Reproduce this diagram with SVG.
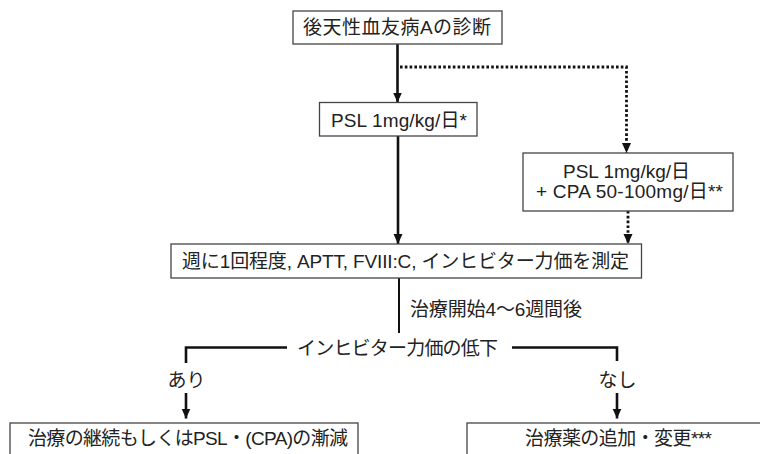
<svg xmlns="http://www.w3.org/2000/svg" width="760" height="454" viewBox="0 0 760 454">
<defs>
<style>
.box{fill:#fff;stroke:#444;stroke-width:1.3}
.t{font-family:"Liberation Sans","Noto Sans CJK JP",sans-serif;font-size:19px;fill:#222}
.c{text-anchor:middle}
.solid{fill:none;stroke:#111;stroke-width:2.6}
.thin{fill:none;stroke:#111;stroke-width:2}
.dot{fill:none;stroke:#111;stroke-width:2.8;stroke-dasharray:2.6 2.2}
</style>
<marker id="ah" viewBox="0 0 10 10" refX="10" refY="5" markerWidth="10" markerHeight="10" markerUnits="userSpaceOnUse" orient="auto">
<path d="M0,0.5 L10,5 L0,9.5 Z" fill="#111"/>
</marker>
</defs>
<rect width="760" height="454" fill="#fff"/>
<g id="connectors">
<line class="solid" x1="397.5" y1="44" x2="397.5" y2="102.5" marker-end="url(#ah)"/>
<polyline class="dot" points="400,67 626.5,67 626.5,153" marker-end="url(#ah)"/>
<line class="solid" x1="398" y1="136" x2="398" y2="244" marker-end="url(#ah)"/>
<line class="dot" x1="628" y1="211" x2="628" y2="244" marker-end="url(#ah)"/>
<line class="thin" x1="399" y1="278" x2="399" y2="333"/>
<polyline class="solid" points="287,347.5 186,347.5 186,363"/>
<polyline class="solid" points="512,347.5 617,347.5 617,361"/>
<line class="solid" x1="186" y1="393" x2="186" y2="418.5" marker-end="url(#ah)"/>
<line class="solid" x1="617" y1="393" x2="617" y2="418.5" marker-end="url(#ah)"/>
</g>
<g id="diagnosis">
<rect class="box" x="293" y="11" width="209" height="33"/>
<text class="t c" x="397" y="34" textLength="188" lengthAdjust="spacing">後天性血友病Aの診断</text>
</g>
<g id="psl">
<rect class="box" x="319.5" y="102.5" width="157.5" height="33.5"/>
<text class="t c" x="399" y="126.5" textLength="136" lengthAdjust="spacing">PSL 1mg/kg/日*</text>
</g>
<g id="psl-cpa">
<rect class="box" x="523" y="153" width="210" height="58"/>
<text class="t c" x="626.5" y="178" textLength="127" lengthAdjust="spacing">PSL 1mg/kg/日</text>
<text class="t c" x="629.5" y="197.5" textLength="187" lengthAdjust="spacing">+ CPA 50-100mg/日**</text>
</g>
<g id="measure">
<rect class="box" x="171" y="244" width="470.5" height="34"/>
<text class="t c" x="405.5" y="268" textLength="447" lengthAdjust="spacing">週に1回程度, APTT, FVIII:C, インヒビター力価を測定</text>
</g>
<g id="timing">
<text class="t" x="410" y="316" textLength="172" lengthAdjust="spacing">治療開始4〜6週間後</text>
</g>
<g id="decline">
<text class="t c" x="397.5" y="355" textLength="201" lengthAdjust="spacing">インヒビター力価の低下</text>
</g>
<g id="label-yes">
<text class="t c" x="186.5" y="387">あり</text>
</g>
<g id="label-no">
<text class="t c" x="617.5" y="387">なし</text>
</g>
<g id="continue">
<rect class="box" x="10" y="423" width="348" height="40"/>
<text class="t c" x="188" y="444.5" textLength="320" lengthAdjust="spacing">治療の継続もしくはPSL・(CPA)の漸減</text>
</g>
<g id="change">
<rect class="box" x="467" y="423" width="305" height="40"/>
<text class="t c" x="618.5" y="445" textLength="187" lengthAdjust="spacing">治療薬の追加・変更***</text>
</g>
</svg>
